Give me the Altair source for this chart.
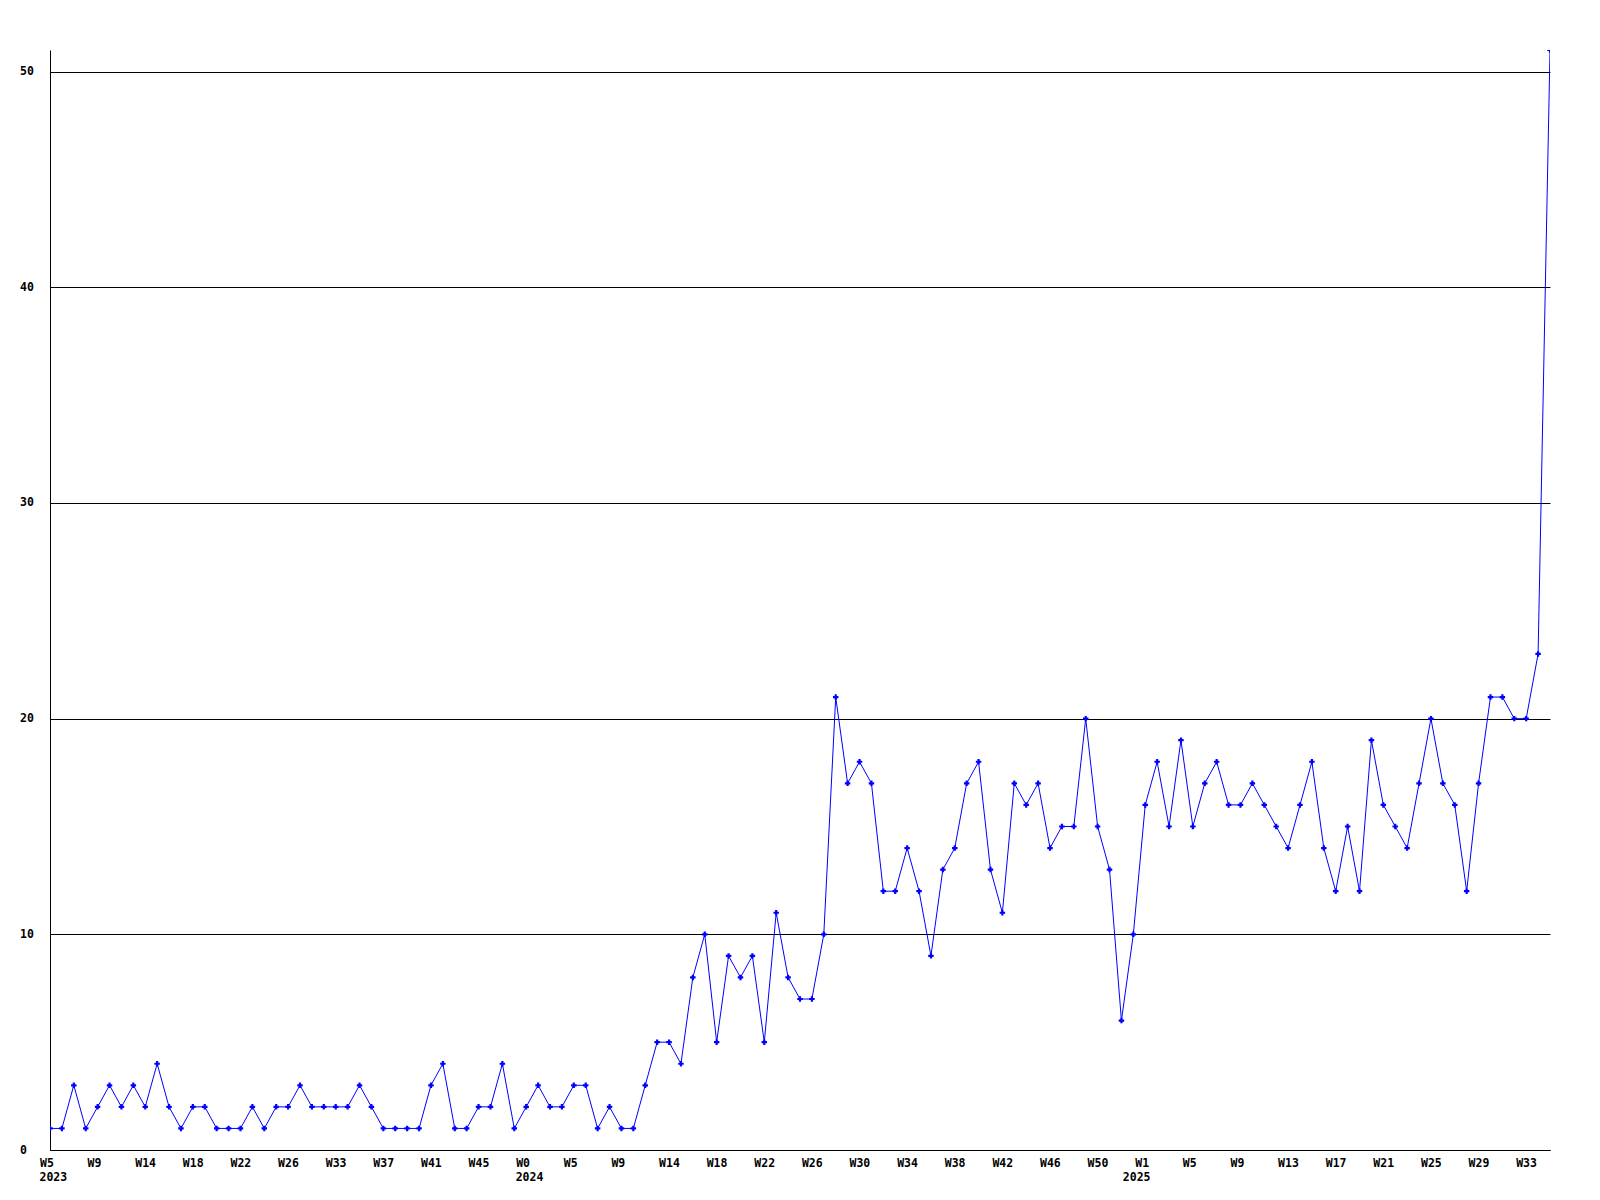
import altair as alt
import pandas as pd

# weekly counts, one value per week (2023 W5 ... 2025 W35)
counts = [
    1, 1, 3, 1, 2, 3, 2, 3, 2, 4, 2, 1, 2, 2, 1, 1, 1, 2, 1, 2,
    2, 3, 2, 2, 2, 2, 3, 2, 1, 1, 1, 1, 3, 4, 1, 1, 2, 2, 4, 1,
    2, 3, 2, 2, 3, 3, 1, 2, 1, 1, 3, 5, 5, 4, 8, 10, 5, 9, 8, 9,
    5, 11, 8, 7, 7, 10, 21, 17, 18, 17, 12, 12, 14, 12, 9, 13, 14, 17, 18, 13,
    11, 17, 16, 17, 14, 15, 15, 20, 15, 13, 6, 10, 16, 18, 15, 19, 15, 17, 18, 16,
    16, 17, 16, 15, 14, 16, 18, 14, 12, 15, 12, 19, 16, 15, 14, 17, 20, 17, 16, 12,
    17, 21, 21, 20, 20, 23, 51,
]

week_labels = ["W5", "W9", "W14", "W18", "W22", "W26", "W33", "W37", "W41", "W45",
               "W0", "W5", "W9", "W14", "W18", "W22", "W26", "W30", "W34", "W38",
               "W42", "W46", "W50", "W1", "W5", "W9", "W13", "W17", "W21", "W25",
               "W29", "W33"]
week_label_pos = list(range(0, 125, 4))

year_labels = ["2023", "2024", "2025"]
year_label_pos = [0, 40, 91]

y_ticks = [0, 10, 20, 30, 40, 50]

df = pd.DataFrame({"i": list(range(len(counts))), "count": counts})
years = pd.DataFrame({"i": year_label_pos, "year": year_labels})

FONT = "DejaVu Sans Mono"
W, H = 1500, 1100

pos_arr = "[" + ",".join(str(p) for p in week_label_pos) + "]"
lab_arr = "[" + ",".join("'" + s + "'" for s in week_labels) + "]"
label_expr = f"{lab_arr}[indexof({pos_arr}, datum.value)]"

x_enc = alt.X(
    "i:Q",
    scale=alt.Scale(domain=[0, len(counts) - 1], nice=False, zero=False),
    axis=alt.Axis(
        values=week_label_pos,
        labelExpr=label_expr,
        grid=False,
        ticks=False,
        tickSize=0,
        domain=True,
        domainColor="black",
        domainWidth=1,
        labelAlign="left",
        labelOffset=-10.5,
        labelPadding=7.5,
        labelBaseline="top",
        labelFont=FONT,
        labelFontWeight="bold",
        labelFontSize=11.5,
        labelColor="black",
        labelOverlap=False,
        labelFlush=False,
        title=None,
    ),
)

y_enc = alt.Y(
    "count:Q",
    scale=alt.Scale(domain=[0, 51], nice=False),
    axis=alt.Axis(
        values=y_ticks,
        grid=True,
        gridColor="black",
        gridOpacity=1,
        gridWidth=1,
        ticks=False,
        tickSize=0,
        domain=True,
        domainColor="black",
        domainWidth=1,
        labelAlign="left",
        labelPadding=30.5,
        labelBaseline="middle",
        labelFont=FONT,
        labelFontWeight="bold",
        labelFontSize=11.5,
        labelColor="black",
        title=None,
    ),
)

base = alt.Chart(df)

line = base.mark_line(color="#0000ff", strokeWidth=1, clip=True).encode(x=x_enc, y=y_enc)
points = base.mark_point(
    shape="cross", filled=True, size=30, color="#0000ff", opacity=1, clip=True
).encode(x=x_enc, y=y_enc)

year_text = alt.Chart(years).mark_text(
    align="left", baseline="top", dx=-10.5, dy=21.7,
    font=FONT, fontWeight="bold", fontSize=11.5, color="black",
).encode(x=x_enc, y=alt.value(H), text="year:N")

chart = (
    alt.layer(line, points, year_text)
    .properties(
        width=W,
        height=H,
        autosize=alt.AutoSizeParams(type="none"),
        padding={"left": 42, "top": 42, "right": 42, "bottom": 50},
        background="white",
    )
    .configure_view(stroke=None)
)

chart.save("out.html", embed_options={"renderer": "svg", "actions": False})
